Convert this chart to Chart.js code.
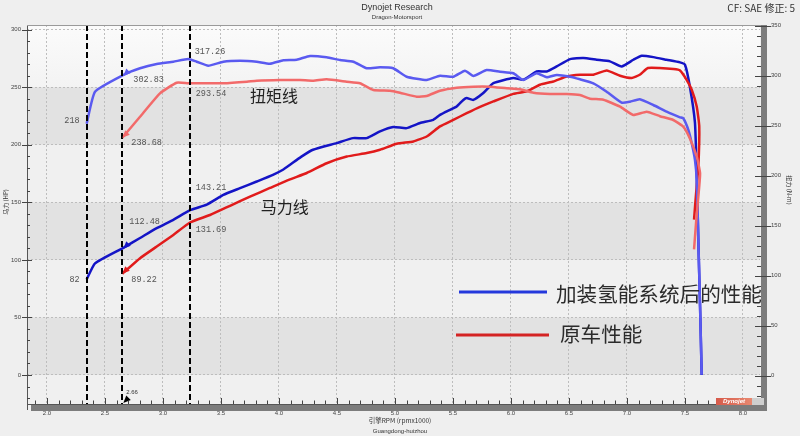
<!DOCTYPE html>
<html><head><meta charset="utf-8">
<script src="https://cdn.jsdelivr.net/npm/chart.js@4.4.1/dist/chart.umd.min.js"></script>
<style>html,body{margin:0;padding:0;background:#efefef;overflow:hidden}canvas{display:block}</style>
</head><body>
<canvas id="c" width="800" height="436"></canvas>
<script>
// ---- data (rpm x1000, HP on left axis, N·m on right axis) ----
const hydroHpRpm = [2.342,2.414,2.658,2.802,2.946,3.089,3.233,3.377,3.52,3.664,3.808,3.948,4.034,4.095,4.19,4.293,4.497,4.638,4.756,4.871,4.985,5.10,5.216,5.33,5.388,5.474,5.532,5.589,5.618,5.675,5.761,5.848,6.02,6.106,6.221,6.308,6.394,6.509,6.623,6.739,6.853,6.954,7.055,7.127,7.228,7.342,7.457,7.50,7.543,7.586,7.601,7.615,7.63,7.644];
const hydroHp = [83,97,110.5,119,127.6,134.8,143.2,148,156.5,162.3,168.1,173.9,178.3,182.6,189.5,195.7,201.5,205.8,205.8,211.6,215.4,214.5,218.9,221.7,226,230.4,233.3,239,240.6,239,245,253.6,258,256.5,263.7,263.7,268.1,274.5,275.4,273.9,272.5,268.1,273.9,277.4,276.2,273.9,271.6,269.6,250,219,175,117,59,0];

const hydroTqRpm = [2.342,2.414,2.658,2.802,2.946,3.089,3.218,3.29,3.39,3.52,3.664,3.808,3.922,4.037,4.153,4.267,4.411,4.526,4.641,4.756,4.871,4.985,5.101,5.273,5.388,5.503,5.603,5.675,5.79,5.905,6.02,6.106,6.221,6.308,6.394,6.509,6.595,6.71,6.825,6.954,7.026,7.11,7.227,7.342,7.457,7.485,7.529,7.558,7.586,7.601,7.615,7.63,7.644];
const hydroTq = [252,284,300.7,307.4,311.7,314,316.7,314,310,314,315,314,312,315.5,316,319.7,318.4,315.7,314,307.4,308.4,307.4,299,295.7,300,299,305,299.7,305.7,304,302.4,295.7,302.4,298.4,300.7,299,296.4,292.4,284,273,274,276.4,270.7,264,258.4,257.4,245.7,232.4,215.7,195.7,135.7,69,1];

const stockHpRpm = [2.649,2.802,2.946,3.089,3.233,3.405,3.578,3.75,3.922,4.095,4.239,4.411,4.584,4.756,4.871,5.015,5.158,5.273,5.388,5.503,5.618,5.733,5.848,6.02,6.135,6.25,6.365,6.48,6.595,6.71,6.825,6.94,7.04,7.11,7.18,7.28,7.4,7.457,7.514,7.558,7.601,7.623,7.615,7.595,7.578];
const stockHp = [88,101.5,111.6,121.7,132.5,139,147,155,162.5,170,175.5,184,189.8,192.8,195.7,200.9,202.9,207.2,216,221.7,227.5,233,237.7,244.3,246.4,252.2,255,259.4,260.9,260.9,264.6,260,258,260.9,266.7,266.7,265.8,264.6,256.5,247.8,233.3,216,181,157,135];

const stockTqRpm = [2.649,2.802,2.974,3.118,3.218,3.377,3.52,3.724,3.808,4.009,4.181,4.296,4.411,4.584,4.698,4.813,4.957,5.043,5.187,5.273,5.388,5.532,5.675,5.819,5.963,6.078,6.193,6.336,6.48,6.595,6.681,6.796,6.94,7.054,7.17,7.284,7.399,7.485,7.543,7.601,7.63,7.615,7.595,7.578];
const stockTq = [238,259,282.4,293,292.4,292.4,292.4,294,295,295.7,295.7,295,296.4,294,292.4,285.7,285,283,279,279.7,285,288,289,289,287.4,286.4,283,281.7,281.7,280.7,277,276,269,260.7,264,259.5,255.7,249,237,219,202.4,179,152.4,126.4];

const xTicks = [2.0,2.5,3.0,3.5,4.0,4.5,5.0,5.5,6.0,6.5,7.0,7.5,8.0];
const hpTicks = [0,50,100,150,200,250,300];
const tqTicks = [0,50,100,150,200,250,300,350];

const markerRpm = [2.342, 2.649, 3.23];
const markerLabel = '2.66';
const calloutText  = ['317.26','302.83','293.54','218','238.68','143.21','112.48','131.69','82','89.22'];
const calloutValue = [317.26, 302.83, 293.54, 252, 238.68, 143.21, 112.48, 131.69, 82, 89.22];
const calloutAxis  = ['yR','yR','yR','yR','yR','yL','yL','yL','yL','yL'];
const calloutMarker= [2,1,2,0,1,2,1,2,0,1];

const seriesNames = ['加装氢能系统后的性能','原车性能'];
const curveNames = ['扭矩线','马力线'];

// ---- layout of callouts (pixel offsets from marker line / value) ----
const calloutOffset = [[5,-7],[11,7],[6,12],[-7,-3],[9,6],[6,-22],[7,-24],[6,6],[-7,-1],[9,7]];

const pts = (xs, ys) => xs.map((x, i) => ({x, y: ys[i]}));
const C = {hHp:'#1414c6', hTq:'#5a5af0', sHp:'#e11b1b', sTq:'#f26a6a'};
const LAT = '"Liberation Sans", Arial, sans-serif';
const CJK = '"Noto Sans CJK SC", sans-serif';

function line(ctx,x1,y1,x2,y2){ctx.beginPath();ctx.moveTo(x1,y1);ctx.lineTo(x2,y2);ctx.stroke();}
function arrowHead(ctx,x,y,color){
  ctx.fillStyle=color; ctx.beginPath();
  ctx.moveTo(x,y); ctx.lineTo(x+7.5,y-3); ctx.lineTo(x+3,y-7.5); ctx.closePath(); ctx.fill();
}

const decor = {
  id:'decor',
  beforeDraw(chart){
    const {ctx, chartArea:a, scales} = chart; const yL = scales.yL;
    ctx.save();
    ctx.fillStyle='#efefef'; ctx.fillRect(0,0,chart.width,chart.height);
    const edges=[yL.max,250,200,150,100,50,0,yL.min];
    for(let i=0;i<edges.length-1;i++){
      const y1=yL.getPixelForValue(edges[i]), y2=yL.getPixelForValue(edges[i+1]);
      let fill = i%2 ? '#e2e2e2' : '#f0f0f0';
      if(i===0){const g=ctx.createLinearGradient(0,y1,0,y2);g.addColorStop(0,'#fbfbfb');g.addColorStop(1,'#f3f3f3');fill=g;}
      ctx.fillStyle=fill; ctx.fillRect(a.left,y1,a.right-a.left,y2-y1);
    }
    ctx.restore();
  },
  afterDatasetsDraw(chart){
    const {ctx, chartArea:a, scales} = chart; const x=scales.x;
    ctx.save();
    ctx.strokeStyle='#000'; ctx.lineWidth=2; ctx.setLineDash([6,3]);
    markerRpm.forEach(r=>{const px=Math.round(x.getPixelForValue(r)); line(ctx,px,a.top,px,a.bottom);});
    ctx.setLineDash([]);
    const m1 = x.getPixelForValue(markerRpm[1]);
    arrowHead(ctx, m1+1, scales.yR.getPixelForValue(hydroTq[2])+1, C.hTq);
    arrowHead(ctx, x.getPixelForValue(stockTqRpm[0]), scales.yR.getPixelForValue(stockTq[0]), C.sTq);
    arrowHead(ctx, m1+1, scales.yL.getPixelForValue(hydroHp[2])+1, C.hHp);
    arrowHead(ctx, x.getPixelForValue(stockHpRpm[0]), scales.yL.getPixelForValue(stockHp[0]), C.sHp);
    arrowHead(ctx, m1+1, a.bottom-1, '#000');
    ctx.font='6px '+LAT; ctx.fillStyle='#333'; ctx.textAlign='left'; ctx.textBaseline='middle';
    ctx.fillText(markerLabel, m1+4, a.bottom-12);
    ctx.font='8.5px "Liberation Mono", monospace'; ctx.fillStyle='#555';
    calloutText.forEach((t,i)=>{
      const [dx,dy]=calloutOffset[i];
      const px=x.getPixelForValue(markerRpm[calloutMarker[i]])+dx;
      const py=scales[calloutAxis[i]].getPixelForValue(calloutValue[i])+dy;
      ctx.textAlign = dx<0 ? 'right':'left';
      ctx.fillText(t,px,py);
    });
    ctx.font='16px '+CJK; ctx.fillStyle='#222'; ctx.textAlign='center';
    ctx.fillText(curveNames[0], x.getPixelForValue(3.957), scales.yR.getPixelForValue(280));
    ctx.fillText(curveNames[1], x.getPixelForValue(4.05), scales.yL.getPixelForValue(146));
    ctx.lineWidth=3;
    ctx.strokeStyle='#2438dc'; line(ctx,459,292,547,292);
    ctx.strokeStyle='#d42424'; line(ctx,456,335,549,335);
    ctx.font='20.6px '+CJK; ctx.fillStyle='#2b2b2b'; ctx.textAlign='left';
    ctx.fillText(seriesNames[0],556,294);
    ctx.fillText(seriesNames[1],560,334);
    ctx.restore();
  },
  afterDraw(chart){
    const {ctx, chartArea:a, scales} = chart; const x=scales.x, yL=scales.yL, yR=scales.yR;
    ctx.save();
    ctx.fillStyle='#7c7c7c';
    ctx.fillRect(a.right+1,a.top,6,a.bottom-a.top+7);
    ctx.fillRect(a.left+4,a.bottom+1,a.right-a.left+3,6);
    ctx.strokeStyle='#555'; ctx.lineWidth=1;
    line(ctx,a.left+0.5,a.top,a.left+0.5,a.bottom+6);
    ctx.strokeStyle='#9a9a9a'; line(ctx,a.left,a.top+0.5,a.right+1,a.top+0.5);
    ctx.strokeStyle='#555'; line(ctx,a.left,a.bottom+0.5,a.right+1,a.bottom+0.5);
    ctx.strokeStyle='#444';
    for(let k=19;k<=81;k++){const v=k/10, px=Math.round(x.getPixelForValue(v))+0.5; if(px<a.left||px>a.right) continue;
      const len = k%5===0 ? 6 : 3.5; line(ctx,px,a.bottom,px,a.bottom-len);}
    for(let v=-20;v<=300;v+=10){const py=Math.round(yL.getPixelForValue(v))+0.5;
      if(v%50===0) line(ctx,a.left-5,py,a.left+5,py); else line(ctx,a.left,py,a.left+3,py);}
    for(let v=-20;v<=350;v+=10){const py=Math.round(yR.getPixelForValue(v))+0.5;
      if(v%50===0) line(ctx,a.right-5,py,a.right+11,py); else line(ctx,a.right-3,py,a.right+1,py);}
    const g=ctx.createLinearGradient(716,0,752,0); g.addColorStop(0,'#d65a4a'); g.addColorStop(1,'#e88870');
    ctx.fillStyle=g; ctx.fillRect(716,398,36,7);
    ctx.fillStyle='#cfcfcf'; ctx.fillRect(752,398,12,7);
    ctx.font='italic bold 6px '+LAT; ctx.fillStyle='#fff'; ctx.textAlign='center'; ctx.textBaseline='middle';
    ctx.fillText('Dynojet',734,401.5);
    ctx.fillStyle='#333'; ctx.textAlign='center';
    ctx.font='9px '+LAT; ctx.fillText('Dynojet Research',397,8);
    ctx.font='6px '+LAT; ctx.fillText('Dragon-Motorsport',397,17);
    ctx.font='10px '+CJK; ctx.textAlign='right'; ctx.fillText('CF: SAE 修正: 5',795,8);
    ctx.textAlign='center'; ctx.font='6.5px '+CJK;
    ctx.fillText('引擎RPM (rpmx1000)',400,421);
    ctx.font='6px '+LAT; ctx.fillText('Guangdong-huizhou',400,431);
    ctx.font='6px '+CJK;
    ctx.save(); ctx.translate(6,202); ctx.rotate(-Math.PI/2); ctx.fillText('马力 (HP)',0,0); ctx.restore();
    ctx.save(); ctx.translate(789,190); ctx.rotate(Math.PI/2); ctx.fillText('扭力 (N-m)',0,0); ctx.restore();
    ctx.restore();
  }
};

const ds = (label, data, color, axis) => ({label, data, yAxisID:axis, borderColor:color, backgroundColor:color,
  borderWidth:2.5, pointRadius:0, tension:0.15, fill:false});

new Chart(document.getElementById('c'), {
  type:'line',
  data:{datasets:[
    ds(seriesNames[1]+' 扭矩', pts(stockTqRpm, stockTq), C.sTq, 'yR'),
    ds(seriesNames[0]+' 扭矩', pts(hydroTqRpm, hydroTq), C.hTq, 'yR'),
    ds(seriesNames[1]+' 马力', pts(stockHpRpm, stockHp), C.sHp, 'yL'),
    ds(seriesNames[0]+' 马力', pts(hydroHpRpm, hydroHp), C.hHp, 'yL'),
  ]},
  options:{
    responsive:false, animation:false, devicePixelRatio:1,
    layout:{padding:{top:25,left:0,right:0,bottom:0}},
    plugins:{legend:{display:false}, title:{display:false}, tooltip:{enabled:false}},
    scales:{
      x:{type:'linear', position:'bottom', min:1.8276, max:8.1466,
        afterBuildTicks:s=>{s.ticks=xTicks.map(v=>({value:v}));},
        afterFit:s=>{s.height=32;},
        ticks:{callback:v=>Number(v).toFixed(1), font:{size:6, family:LAT}, color:'#444', padding:6, maxRotation:0, autoSkip:false},
        grid:{color:'#bdbdbd', drawTicks:false, lineWidth:1},
        border:{display:false, dash:[2,2]}},
      yL:{type:'linear', position:'left', min:-25.2, max:304.1,
        afterBuildTicks:s=>{s.ticks=hpTicks.map(v=>({value:v}));},
        afterFit:s=>{s.width=27;},
        ticks:{font:{size:6, family:LAT}, color:'#444', padding:6},
        grid:{color:'#bdbdbd', drawTicks:false, lineWidth:1},
        border:{display:false, dash:[2,2]}},
      yR:{type:'linear', position:'right', min:-28.3, max:350.7,
        afterBuildTicks:s=>{s.ticks=tqTicks.map(v=>({value:v}));},
        afterFit:s=>{s.width=40;},
        ticks:{font:{size:6, family:LAT}, color:'#444', padding:11},
        grid:{drawOnChartArea:false, drawTicks:false},
        border:{display:false}}
    }
  },
  plugins:[decor]
});
</script>
</body></html>
